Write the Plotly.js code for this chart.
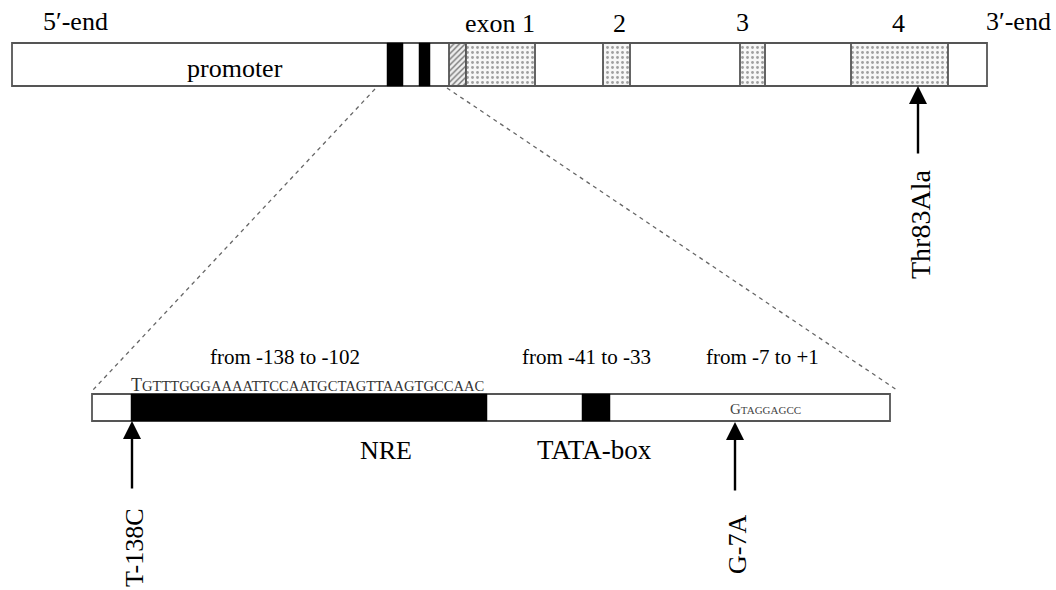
<!DOCTYPE html>
<html><head><meta charset="utf-8">
<script src="https://cdn.plot.ly/plotly-3.0.1.min.js"></script>
<style>html,body{margin:0;padding:0;background:#fff}</style>
</head><body><div id="chart" style="width:1056px;height:590px"></div>
<script>
// Diagram data (schematic units)
const geneSpan = [12, 987];
const blackBandStart = [387, 419];
const blackBandEnd = [403, 430];
const hatchStart = [449];
const hatchEnd = [466];
const exonLabels = ['exon 1', '2', '3', '4'];
const exonStart = [466, 603, 740, 851];
const exonEnd = [535, 630, 765, 948];

const promoterSpan = [92, 890];
const elementNames = ['NRE', 'TATA-box'];
const elementRanges = ['from -138 to -102', 'from -41 to -33'];
const elementStart = [131, 582];
const elementEnd = [487, 610];
const startSiteRange = 'from -7 to +1';
const nreSequence = 'TGTTTGGGAAAATTCCAATGCTAGTTAAGTGCCAAC';
const startSequence = 'GTAGGAGCC';

const variantNames = ['Thr83Ala', 'T-138C', 'G-7A'];
const variantPos = [918, 132, 735];

const TOP_Y = [43, 86], LOW_Y = [394, 421];
const FONT = 'Liberation Serif, Times New Roman, serif';

function hbar(starts, ends, yr, marker, name) {
  return {
    type: 'bar', orientation: 'h', name: name,
    base: starts, x: starts.map((s, i) => ends[i] - s),
    y: starts.map(() => (yr[0] + yr[1]) / 2),
    width: starts.map(() => yr[1] - yr[0]),
    marker: marker, hoverinfo: 'skip', showlegend: false
  };
}
const outline = {color: '#555555', width: 1.8};
const traces = [
  hbar([geneSpan[0]], [geneSpan[1]], TOP_Y, {color: '#ffffff', line: outline}, 'gene'),
  hbar(blackBandStart, blackBandEnd, TOP_Y, {color: '#000000', line: {color: '#000', width: 0.5}}, 'bands'),
  hbar(hatchStart, hatchEnd, TOP_Y, {color: '#f4f4f4', line: outline,
    pattern: {shape: '/', fgcolor: '#777', bgcolor: '#eeeeee', size: 4, solidity: 0.35}}, 'hatch'),
  hbar(exonStart, exonEnd, TOP_Y, {color: '#fafafa', line: outline,
    pattern: {shape: '.', fgcolor: '#a0a0a0', bgcolor: '#f7f7f7', size: 5, solidity: 0.25}}, 'exons'),
  hbar([promoterSpan[0]], [promoterSpan[1]], LOW_Y, {color: '#ffffff', line: outline}, 'promoter'),
  hbar(elementStart, elementEnd, LOW_Y, {color: '#000000', line: {color: '#000', width: 0.5}}, 'elements'),
  {type: 'scatter', mode: 'lines', x: [375, promoterSpan[0]], y: [89, LOW_Y[0] - 3],
   line: {color: '#666', width: 1.3, dash: '4px,4px'}, hoverinfo: 'skip', showlegend: false},
  {type: 'scatter', mode: 'lines', x: [hatchStart[0] - 2, promoterSpan[1] + 7], y: [88, LOW_Y[0] - 4],
   line: {color: '#666', width: 1.3, dash: '4px,4px'}, hoverinfo: 'skip', showlegend: false}
];

const ann = [];
function txt(x, y, t, size, extra) {
  ann.push(Object.assign({x: x, y: y, xref: 'x', yref: 'y', text: t, showarrow: false,
    font: {family: FONT, size: size, color: '#000'}}, extra || {}));
}
const BIG = 26;
txt(75, 21, '5′-end', BIG);
txt(1018, 21, '3′-end', BIG);
txt(235, 68, 'promoter', BIG);
txt(500, 23, exonLabels[0], BIG);
txt(619, 23, exonLabels[1], BIG);
txt(742, 22, exonLabels[2], BIG);
txt(898, 23, exonLabels[3], BIG);

txt(285, 357, elementRanges[0], 21);
txt(586, 357, elementRanges[1], 21);
txt(762, 357, startSiteRange, 21);
txt(386, 450, elementNames[0], BIG);
txt(594, 450, elementNames[1], 27);

txt(elementStart[0] - 2, 385,
  '<span style="font-size:18px">' + nreSequence[0] + '</span>' + nreSequence.slice(1), 14.6,
  {xanchor: 'left', font: {family: FONT, size: 14.6, color: '#333'}});
txt(728, 409,
  '<span style="font-size:15px">' + startSequence[0] + '</span>' + startSequence.slice(1), 11,
  {xanchor: 'left', font: {family: FONT, size: 11, color: '#444'}});

// variant arrows
const arrowTail = [155, 490, 492];
const arrowHead = [TOP_Y[1], LOW_Y[1], LOW_Y[1] + 1];
const labelY = [225, 548, 545];
const labelSize = [28, BIG, BIG];
variantNames.forEach((n, i) => {
  ann.push({x: variantPos[i], y: arrowHead[i], ax: variantPos[i], ay: arrowTail[i],
    xref: 'x', yref: 'y', axref: 'x', ayref: 'y', text: '', showarrow: true,
    arrowhead: 2, arrowsize: 1.5, arrowwidth: 2.4, arrowcolor: '#000'});
  txt(variantPos[i] + 2, labelY[i], n, labelSize[i], {textangle: -90});
});

const layout = {
  width: 1056, height: 590, margin: {l: 0, r: 0, t: 0, b: 0},
  paper_bgcolor: '#fff', plot_bgcolor: '#fff', barmode: 'overlay', bargap: 0,
  xaxis: {range: [0, 1056], visible: false, fixedrange: true},
  yaxis: {range: [590, 0], visible: false, fixedrange: true},
  annotations: ann, showlegend: false
};
Plotly.newPlot('chart', traces, layout, {displayModeBar: false, staticPlot: true});
</script></body></html>
